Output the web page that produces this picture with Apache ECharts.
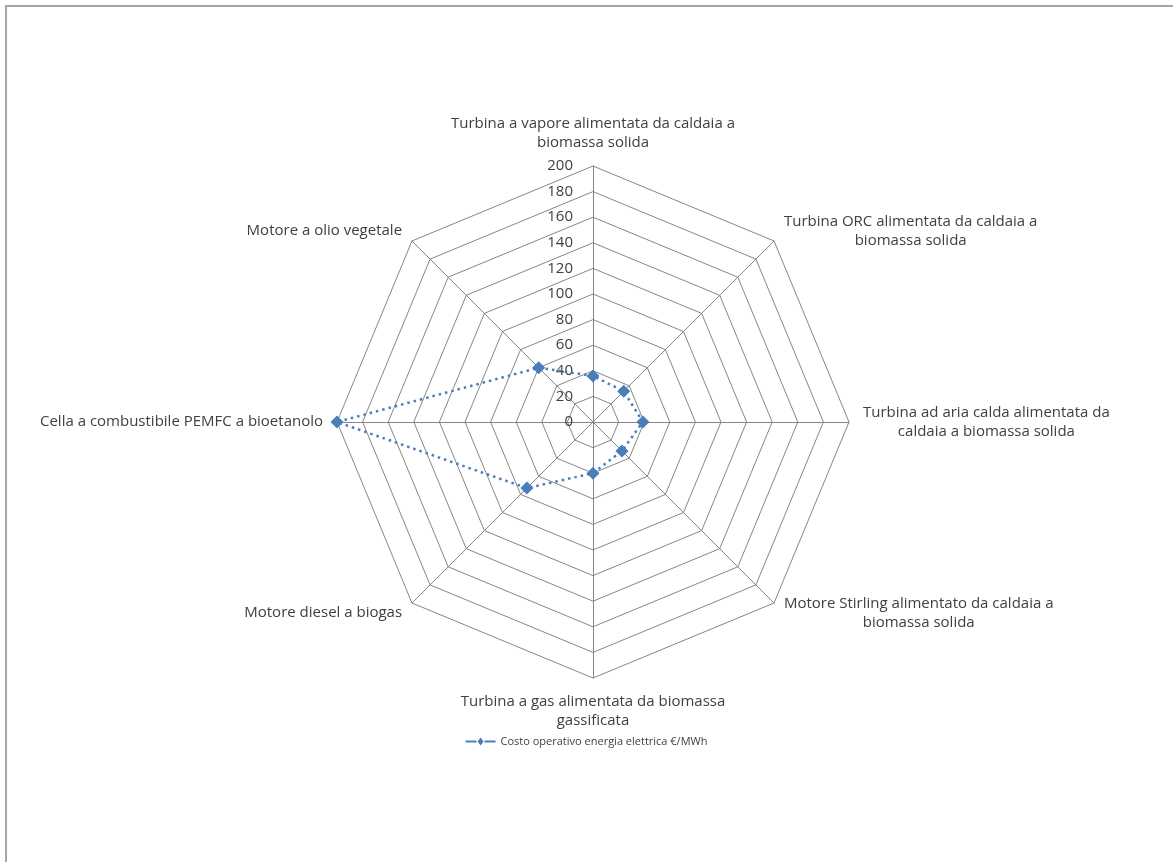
<!DOCTYPE html>
<html>
<head>
<meta charset="utf-8">
<script src="https://cdn.jsdelivr.net/npm/echarts@6/dist/echarts.min.js"></script>
<style>
  html, body { margin: 0; padding: 0; background: #fff; }
  #chart { width: 1173px; height: 862px; }
</style>
</head>
<body>
<div id="chart"></div>
<script>
// categorie in senso orario, partendo dall'alto (come nel grafico Excel)
const categories = [
  'Turbina a vapore alimentata da caldaia a\nbiomassa solida',
  'Turbina ORC alimentata da caldaia a\nbiomassa solida',
  'Turbina ad aria calda alimentata da\ncaldaia a biomassa solida',
  'Motore Stirling alimentato da caldaia a\nbiomassa solida',
  'Turbina a gas alimentata da biomassa\ngassificata',
  'Motore diesel a biogas',
  'Cella a combustibile PEMFC a bioetanolo',
  'Motore a olio vegetale'
];
const costoOperativo = [36, 34, 39, 32, 40, 73, 200, 60];
const seriesName = 'Costo operativo energia elettrica €/MWh';
const axisMax = 200;

// echarts gira in senso antiorario: riordino mantenendo la prima in alto
const order = [0, 7, 6, 5, 4, 3, 2, 1];

const chart = echarts.init(document.getElementById('chart'));
chart.setOption({
  backgroundColor: '#fff',
  textStyle: { fontFamily: 'Open Sans' },
  graphic: [{
    type: 'rect',
    shape: { x: 6, y: 6, width: 1400, height: 1000 },
    style: { fill: 'none', stroke: '#a6a6a6', lineWidth: 2 },
    silent: true
  }],
  legend: {
    bottom: 110,
    left: 'center',
    itemWidth: 30,
    itemHeight: 8,
    itemGap: 4,
    icon: 'path://M0,9 L11,9 L11,7 L0,7 Z M12,8 L15,4 L18,8 L15,12 Z M19,9 L30,9 L30,7 L19,7 Z',
    textStyle: { fontSize: 11, color: '#404040', fontFamily: 'Open Sans' },
    data: [seriesName]
  },
  radar: {
    center: [593, 422],
    radius: 256,
    shape: 'polygon',
    splitNumber: 10,
    startAngle: 90,
    nameGap: 14,
    axisName: {
      color: '#404040',
      fontSize: 15,
      lineHeight: 19,
      formatter: function (name) {
        return name.split('\n').map(function (s) { return '{c|' + s + '}'; }).join('\n');
      },
      rich: { c: { align: 'center', fontSize: 15, lineHeight: 19, color: '#404040', fontFamily: 'Open Sans' } }
    },
    axisLine: { lineStyle: { color: '#868686', width: 1 } },
    splitLine: { lineStyle: { color: '#868686', width: 1 } },
    splitArea: { show: false },
    axisTick: { show: false },
    axisLabel: { show: false },
    indicator: order.map(function (i, k) {
      const ind = { name: categories[i], min: 0, max: axisMax };
      if (k === 0) {
        ind.axisLabel = { show: true, color: '#404040', fontSize: 15, margin: 20, showMinLabel: true, fontFamily: 'Open Sans' };
      }
      return ind;
    })
  },
  series: [{
    name: seriesName,
    type: 'radar',
    symbol: 'diamond',
    symbolSize: 13,
    itemStyle: { color: '#4a7ebb' },
    lineStyle: { color: '#4a7ebb', width: 2.5, type: [2.5, 4] },
    data: [{
      name: seriesName,
      value: order.map(function (i) { return costoOperativo[i]; })
    }]
  }]
});
</script>
</body>
</html>
